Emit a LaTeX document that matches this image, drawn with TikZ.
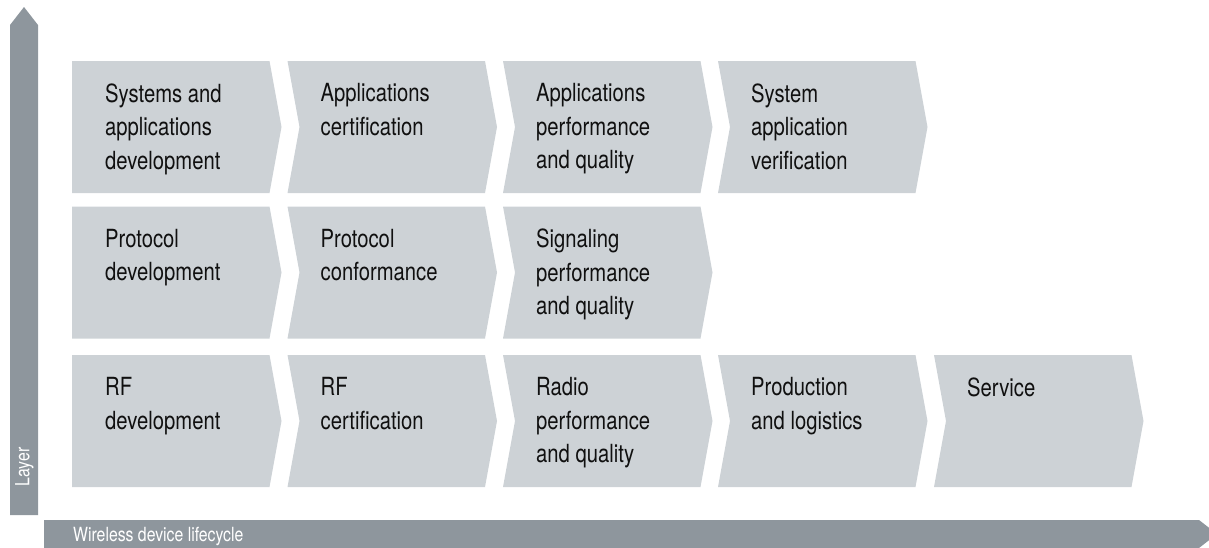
\documentclass[tikz,border=0pt]{standalone}
\usepackage{fontspec}
\setmainfont{TeX Gyre Heros}[FakeStretch=0.81]
\definecolor{boxgray}{HTML}{CDD2D6}
\definecolor{arrowgray}{HTML}{8E969D}
\definecolor{txt}{HTML}{101010}
\newcommand{\chevron}[4]{% #1 left, #2 top, #3 notch (0/1), #4 name
  \pgfmathsetmacro{\cL}{#1}\pgfmathsetmacro{\cT}{#2}%
  \pgfmathsetmacro{\cR}{#1+197.5}\pgfmathsetmacro{\cB}{#2+132}%
  \pgfmathsetmacro{\cM}{#2+66}\pgfmathsetmacro{\cTip}{#1+197.5+12}%
  \pgfmathsetmacro{\cN}{#1+12*#3}%
  \fill[boxgray] (\cL,\cT) -- (\cR,\cT) -- (\cTip,\cM) -- (\cR,\cB) -- (\cL,\cB) -- (\cN,\cM) -- cycle;
  \coordinate (#4) at (\cL+33,\cT+22.5);
}
\begin{document}
\begin{tikzpicture}[x=1pt,y=-1pt,
  boxtext/.style={anchor=north west,inner sep=0pt,align=left,text=txt,
    font=\fontsize{25}{33.5}\selectfont},
  axistext/.style={inner sep=0pt,text=white,font=\fontsize{19.5}{22}\selectfont}]
\useasboundingbox (0,0) rectangle (1209,547);
\clip (0,0) rectangle (1209,547);
% axes
\fill[arrowgray] (10,515) -- (10,25) -- (24,7) -- (38,25) -- (38,515) -- cycle;
\fill[arrowgray] (44,520) -- (1199,520) -- (1217,534) -- (1199,548) -- (44,548) -- cycle;
\node[axistext,rotate=90] (layer) at (24.5,467) {Layer};
\node[axistext,anchor=base west] (life) at (73,541) {Wireless device lifecycle};
% row 1
\chevron{72}{61}{0}{a1}
\chevron{287.5}{61}{1}{a2}
\chevron{503}{61}{1}{a3}
\chevron{718}{61}{1}{a4}
% row 2
\chevron{72}{206.5}{0}{b1}
\chevron{287.5}{206.5}{1}{b2}
\chevron{503}{206.5}{1}{b3}
% row 3
\chevron{72}{355}{0}{c1}
\chevron{287.5}{355}{1}{c2}
\chevron{503}{355}{1}{c3}
\chevron{718}{355}{1}{c4}
\chevron{934}{355}{1}{c5}
% texts
\node[boxtext] (ta1) at (a1) {Systems and\\applications\\development};
\node[boxtext] (ta2) at (a2) {Applications\\certification};
\node[boxtext] (ta3) at (a3) {Applications\\performance\\and quality};
\node[boxtext] (ta4) at (a4) {System\\application\\verification};
\node[boxtext] (tb1) at (b1) {Protocol\\development};
\node[boxtext] (tb2) at (b2) {Protocol\\conformance};
\node[boxtext] (tb3) at (b3) {Signaling\\performance\\and quality};
\node[boxtext] (tc1) at (c1) {RF\\development};
\node[boxtext] (tc2) at (c2) {RF\\certification};
\node[boxtext] (tc3) at (c3) {Radio\\performance\\and quality};
\node[boxtext] (tc4) at (c4) {Production\\and logistics};
\node[boxtext] (tc5) at (c5) {Service};
\end{tikzpicture}
\end{document}
